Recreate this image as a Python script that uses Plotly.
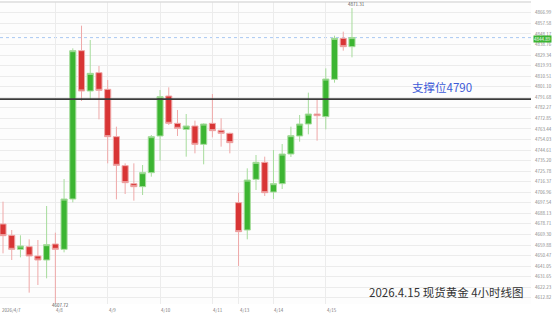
import plotly.graph_objects as go

# ---- data (4-hour candles, spot gold) ----
opens = [4678.64, 4668.53, 4656.04, 4658.42, 4650.10, 4646.53, 4660.80, 4656.04, 4700.94, 4833.25,
         4797.27, 4813.63, 4798.76, 4756.54, 4730.67, 4714.62, 4711.94, 4724.43, 4757.14, 4792.81,
         4768.43, 4763.08, 4766.06, 4749.70, 4768.43, 4762.19, 4759.51, 4697.67, 4673.29, 4718.48,
         4733.65, 4707.18, 4714.62, 4741.08, 4757.14, 4767.84, 4776.76, 4774.38, 4807.68, 4844.25,
         4836.82]
highs = [4698.56, 4673.29, 4668.53, 4664.96, 4664.37, 4694.70, 4670.91, 4718.78, 4835.33, 4855.55,
         4842.77, 4819.57, 4807.09, 4765.46, 4732.75, 4732.75, 4731.27, 4758.03, 4798.17, 4800.55,
         4780.33, 4776.76, 4770.81, 4768.43, 4794.60, 4772.89, 4760.10, 4706.59, 4728.29, 4740.19,
         4738.70, 4744.65, 4750.00, 4765.46, 4775.87, 4795.79, 4789.84, 4817.49, 4846.63, 4850.20,
         4871.31]
lows = [4652.47, 4646.53, 4648.91, 4617.39, 4624.23, 4630.18, 4607.72, 4653.37, 4697.97, 4788.36,
        4789.84, 4772.00, 4732.75, 4700.64, 4705.40, 4699.45, 4704.51, 4720.86, 4735.13, 4766.95,
        4757.14, 4738.70, 4741.67, 4731.86, 4755.95, 4747.62, 4741.67, 4641.18, 4664.96, 4708.97,
        4703.62, 4700.94, 4709.86, 4738.40, 4752.08, 4758.62, 4752.97, 4763.08, 4804.71, 4833.25,
        4827.31]
closes = [4668.23, 4656.04, 4659.02, 4650.10, 4646.53, 4660.21, 4656.04, 4700.94, 4833.25, 4797.27,
          4813.03, 4797.87, 4756.54, 4730.97, 4715.51, 4711.94, 4724.43, 4756.54, 4792.22, 4768.43,
          4763.97, 4766.06, 4749.70, 4767.84, 4761.89, 4759.51, 4751.19, 4671.80, 4717.89, 4733.65,
          4706.59, 4714.62, 4741.08, 4757.43, 4767.84, 4776.76, 4775.27, 4807.98, 4844.25, 4836.82,
          4844.89]

day_start_idx = [6, 12, 18, 24, 27, 31, 37]
day_labels = ["4/8", "4/9", "4/10", "4/11", "4/13", "4/14", "4/15"]
first_label = "2026/4/7"

y_ticks = [4612.82, 4622.23, 4631.65, 4641.05, 4650.47, 4659.88, 4669.30, 4678.71, 4688.13,
           4697.54, 4706.96, 4716.37, 4725.78, 4735.20, 4744.61, 4754.03, 4763.44, 4772.85,
           4782.27, 4791.68, 4801.10, 4810.51, 4819.93, 4829.34, 4838.76, 4848.17, 4857.58,
           4866.99]

support = 4790
title_text = "2026.4.15 现货黄金 4小时线图"

x = list(range(len(opens)))
last_close = closes[-1]
hi_idx = highs.index(max(highs))
lo_idx = lows.index(min(lows))

GREEN = "#3cb532"
GREEN_L = "#a6dc9c"
RED = "#d83535"
RED_L = "#efa8a8"

fig = go.Figure()
fig.add_trace(go.Candlestick(
    x=x, open=opens, high=highs, low=lows, close=closes,
    increasing=dict(fillcolor=GREEN, line=dict(color=GREEN_L, width=1)),
    decreasing=dict(fillcolor=RED, line=dict(color=RED_L, width=1)),
    whiskerwidth=0, showlegend=False, hoverinfo="skip",
))

shapes = [
    dict(type="line", xref="paper", x0=0, x1=1, yref="y", y0=support, y1=support,
         line=dict(color="#3a3a3a", width=1.6), layer="above"),
    dict(type="line", xref="paper", x0=0, x1=1, yref="y", y0=last_close, y1=last_close,
         line=dict(color="#a9c8f2", width=1, dash="dot"), layer="below"),
    dict(type="line", xref="paper", x0=0, x1=1, yref="paper", y0=1, y1=1,
         line=dict(color="#dddddd", width=1.5)),
]

annotations = []
annotations.append(dict(xref="paper", x=0, yref="paper", y=0, xanchor="left", yanchor="top",
                        text=first_label, showarrow=False, yshift=-1,
                        font=dict(size=4.5, color="#777")))
for i, lab in zip(day_start_idx, day_labels):
    annotations.append(dict(xref="x", x=i, yref="paper", y=0, xanchor="left", yanchor="top",
                            text=lab, showarrow=False, yshift=-1, xshift=-1,
                            font=dict(size=4.5, color="#777")))
annotations.append(dict(xref="x", x=lo_idx, y=lows[lo_idx], xanchor="center", yanchor="middle",
                        text=f"{lows[lo_idx]:.2f}", showarrow=False, xshift=5, yshift=-1,
                        font=dict(size=4.5, color="#555")))
annotations.append(dict(xref="x", x=hi_idx, y=highs[hi_idx], xanchor="center", yanchor="bottom",
                        text=f"{highs[hi_idx]:.2f}", showarrow=False, xshift=5, yshift=-1,
                        font=dict(size=4.5, color="#555")))
annotations.append(dict(xref="paper", x=1, y=last_close, xanchor="left", yanchor="middle",
                        text=f"{last_close:.2f}", showarrow=False, xshift=2, yshift=-1,
                        bgcolor=GREEN, borderpad=0,
                        font=dict(size=4.5, color="white")))
annotations.append(dict(xref="paper", x=0.832, y=support, xanchor="center", yanchor="middle",
                        text=f"支撑位{support}", showarrow=False, yshift=12,
                        font=dict(size=11.5, color="#3d5bd8", family="Noto Sans CJK SC")))
annotations.append(dict(xref="paper", x=0.841, yref="paper", y=0.041, xanchor="center",
                        yanchor="middle", text=title_text, showarrow=False,
                        font=dict(size=11.5, color="#333", family="Noto Sans CJK SC")))

fig.update_layout(
    width=554, height=314,
    margin=dict(l=0, r=23, t=2, b=10),
    paper_bgcolor="white", plot_bgcolor="#fdfdfd",
    boxgap=0.3, boxgroupgap=0,
    shapes=shapes, annotations=annotations,
    xaxis=dict(range=[-0.344, 60.52], rangeslider=dict(visible=False),
               tickvals=day_start_idx, showticklabels=False, ticks="",
               showgrid=True, gridcolor="#ececec", gridwidth=1, zeroline=False, fixedrange=True),
    yaxis=dict(range=[4607.28, 4876.66], side="right", tickvals=y_ticks,
               ticktext=[f"{v:.2f}" for v in y_ticks], ticks="",
               tickfont=dict(size=4.5, color="#888"), showgrid=True, gridcolor="#ececec",
               gridwidth=1, zeroline=False, ticklabelstandoff=3),
    font=dict(family="Noto Sans CJK SC"),
)

fig.write_html("out.html")
